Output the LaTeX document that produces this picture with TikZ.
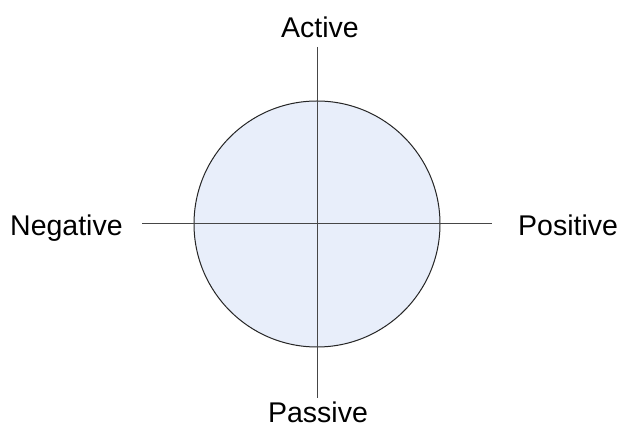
\documentclass[tikz,border=0pt]{standalone}
\usepackage{fontspec}
\setmainfont{Liberation Sans}
\definecolor{circfill}{RGB}{232,238,250}
\definecolor{axisgray}{RGB}{70,70,70}
\begin{document}
\begin{tikzpicture}[x=1pt,y=-1pt,
  lbl/.style={font=\fontsize{28.5}{32}\selectfont, inner sep=0pt, anchor=base},
  axis/.style={draw=axisgray, line width=1pt}]
\useasboundingbox (0,0) rectangle (622,427);
\fill[white] (0,0) rectangle (622,427);
\node[circle, draw=black!85, fill=circfill, line width=1pt, minimum size=246pt, inner sep=0pt] (c) at (317,224) {};
\coordinate (top) at (317,47);
\coordinate (bot) at (317,398);
\coordinate (lft) at (142,224);
\coordinate (rgt) at (492,224);
\draw[axis] (top) -- (bot);
\draw[axis] (lft) -- (rgt);
\node[lbl] (act) at (320,38) {Active};
\node[lbl] (pas) at (318,423) {Passive};
\node[lbl, anchor=base west] (neg) at (10,236) {Negative};
\node[lbl, anchor=base west] (pos) at (518,236) {Positive};
\end{tikzpicture}
\end{document}
